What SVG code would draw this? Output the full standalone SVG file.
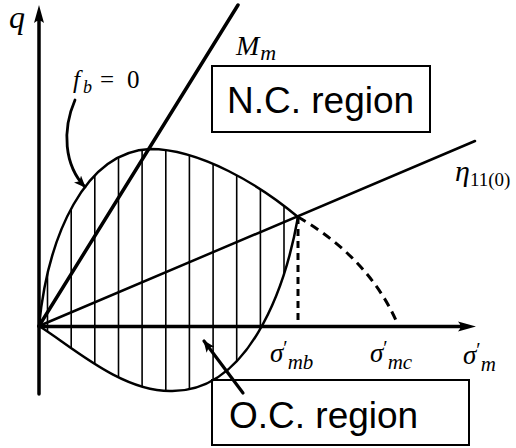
<svg xmlns="http://www.w3.org/2000/svg" width="516" height="448" viewBox="0 0 516 448">
<style>
.math{font-family:"Liberation Serif","DejaVu Serif",serif;font-style:italic;fill:#000}
.rm{font-family:"Liberation Serif","DejaVu Serif",serif;font-style:normal;fill:#000}
.lbl{font-family:"Liberation Sans",Arial,sans-serif;font-size:37px;fill:#000}
.box{fill:none;stroke:#000;stroke-width:2}
.ln{fill:none;stroke:#000;stroke-linecap:round}
</style>
<defs>
<clipPath id="fb-clip">
<path id="fb-shape" d="M39,326 C48,235 85,152 150,149 C200,149 260,185 298,217 C285,290 248,393 170,391 C120,391 70,345 39,326 Z"/>
</clipPath>
<marker id="ah" viewBox="0 0 12 10" refX="11" refY="5" markerWidth="12" markerHeight="10" markerUnits="userSpaceOnUse" orient="auto">
<path d="M0,0 L12,5 L0,10 L3,5 Z" fill="#000"/>
</marker>
</defs>
<rect width="516" height="448" fill="#fff"/>

<g id="hatching" clip-path="url(#fb-clip)" stroke="#000" stroke-width="1.6">
<line x1="47.5" y1="100" x2="47.5" y2="400"/>
<line x1="71.2" y1="100" x2="71.2" y2="400"/>
<line x1="94.8" y1="100" x2="94.8" y2="400"/>
<line x1="118.5" y1="100" x2="118.5" y2="400"/>
<line x1="142.1" y1="100" x2="142.1" y2="400"/>
<line x1="165.8" y1="100" x2="165.8" y2="400"/>
<line x1="189.4" y1="100" x2="189.4" y2="400"/>
<line x1="213.1" y1="100" x2="213.1" y2="400"/>
<line x1="236.7" y1="100" x2="236.7" y2="400"/>
<line x1="260.4" y1="100" x2="260.4" y2="400"/>
<line x1="284.0" y1="100" x2="284.0" y2="400"/>
</g>

<g id="axes">
<line class="ln" x1="39" y1="394" x2="39" y2="18" stroke-width="3.5" stroke-linecap="butt"/>
<path d="M39,5 L44,23 Q39,18 34,23 Z" fill="#000"/>
<line class="ln" x1="39" y1="326.5" x2="462" y2="326.5" stroke-width="3.5" stroke-linecap="butt"/>
<path d="M476,326.5 L458,321.5 Q463,326.5 458,331.5 Z" fill="#000"/>
</g>

<g id="lines">
<line id="Mm-line" class="ln" x1="39" y1="326" x2="238" y2="5" stroke-width="3.5"/>
<line id="eta-line" class="ln" x1="39" y1="326" x2="475" y2="141" stroke-width="2.5"/>
<use id="fb-curve" href="#fb-shape" fill="none" stroke="#000" stroke-width="2.5"/>
<path id="dashed-cap" d="M298,217 C330,235 375,270 398,325" fill="none" stroke="#000" stroke-width="3" stroke-dasharray="9 6"/>
<line id="dashed-v" x1="298" y1="217" x2="298" y2="326" stroke="#000" stroke-width="3" stroke-dasharray="7 5"/>
</g>

<g id="connectors">
<path class="ln" d="M75,100 C62,130 64,165 85,187" stroke-width="2.8" marker-end="url(#ah)"/>
<line class="ln" x1="243" y1="393" x2="204" y2="341" stroke-width="3.2" marker-end="url(#ah)"/>
</g>

<g id="nc-region">
<rect class="box" x="212" y="66" width="218" height="66"/>
<text class="lbl" x="227" y="113">N.C. region</text>
</g>

<g id="oc-region">
<rect class="box" x="212" y="380" width="257" height="65"/>
<text class="lbl" x="229" y="428">O.C. region</text>
</g>

<g id="labels">
<text class="math" x="9" y="28" font-size="32">q</text>
<text class="math" x="73" y="88" font-size="25">f<tspan font-size="18" dx="3" dy="5">b</tspan><tspan class="rm" font-size="25" x="100" dy="-5">=</tspan><tspan class="rm" font-size="25" x="127">0</tspan></text>
<text class="math" x="236" y="55" font-size="28">M<tspan font-size="22" dx="1" dy="5">m</tspan></text>
<text class="math" x="455" y="181" font-size="30">η<tspan class="rm" font-size="19" x="470" dy="5">11(0)</tspan></text>
<text class="math" x="270" y="362" font-size="27">σ<tspan class="rm" font-size="20" dx="0" dy="-7">′</tspan><tspan font-size="21" dx="0" dy="14">mb</tspan></text>
<text class="math" x="370" y="362" font-size="27">σ<tspan class="rm" font-size="20" dx="0" dy="-7">′</tspan><tspan font-size="21" dx="0" dy="14">mc</tspan></text>
<text class="math" x="463" y="364" font-size="27">σ<tspan class="rm" font-size="20" dx="0" dy="-7">′</tspan><tspan font-size="21" dx="0" dy="14">m</tspan></text>
</g>
</svg>
